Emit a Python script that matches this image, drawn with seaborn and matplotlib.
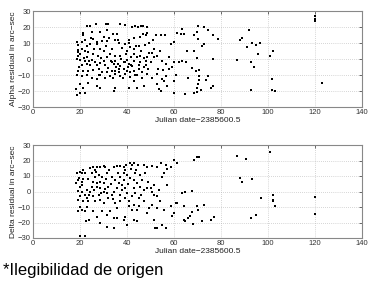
import matplotlib
matplotlib.use("Agg")
import matplotlib.pyplot as plt
import seaborn as sns
import pandas as pd

# Alpha residuals (x = Julian date - 2385600.5, y = residual in arc-sec)
alpha_pts = [
    (23,20.6),(24.3,20.6),(27,22),(31,22),(32,21.7),(37,22),(39,21),(42,20),(46,20.8),(47,20.6),
    (43.6,20.6),(44.6,20),(48.6,20),(52.4,15),(54.3,15),(56.3,15),(61.4,16.4),(63.3,19),(21.1,16.2),
    (21.4,14.7),(25,16.8),(28.6,16.8),(31.4,18.3),(34,15.4),(35.7,15.8),(25.7,12.6),(27.1,10.5),
    (30,14),(31.4,11.2),(35,11.6),(36.4,9.9),(39.3,9.5),(40.7,9.9),(42.9,13),(45.7,13.7),(47,15.8),
    (48.6,16.4),(48,15.2),(49.3,10),(45,8),(42.9,6.3),(40,5.3),(41.4,7.4),(37,2.1),(35,2.1),(32.9,3.2),
    (30,5.3),(28.6,6.3),(27.1,9.5),(24.3,9.5),(22.9,8.4),(20.7,10.5),(18.9,10.5),(19.3,8.8),(19.3,5.7),
    (19.3,4.6),(20,3.2),(22.1,5.3),(23.6,4.2),(25.7,3.2),(25,-0.6),(22.1,-1),(20,-0.6),(18.9,0),
    (20.7,-3.6),(22.9,-3.2),(24.3,-3.6),(27.1,-3.6),(28.6,-2.7),(30,-1),(31.4,1),(33.6,-2.1),(35,-1),
    (36,-3.2),(37.1,-4.4),(38.6,-2.1),(40,-0.6),(40.7,-3.2),(41.7,-3.6),(42.9,-1),(44.3,1.5),(45.7,2.1),
    (47.1,0.6),(48.6,1.5),(50.7,3.6),(51.4,1),(45.7,-2.1),(47.9,-3.6),(47.4,-5.3),(45,-6.3),(42.9,-7.4),
    (41.4,-8.4),(40,-7.4),(38.6,-6.3),(36.4,-6.3),(35,-7.4),(33.6,-7.4),(31.4,-8),(29.3,-8.4),(27.9,-6.3),
    (25.7,-6.9),(23.6,-7.4),(21.4,-7.4),(19.3,-7.4),(18.9,-9.9),(20.7,-10.5),(22.9,-9.9),(25,-11.6),
    (27.1,-12.6),(28.6,-9.9),(30.7,-12),(32.9,-10.5),(35,-9.5),(37.1,-10.5),(39.3,-9.5),(41.4,-11.2),
    (42.9,-13.7),(44.3,-9.9),(46.4,-11.6),(48.6,-9.5),(50.7,-11.6),(52.9,-9.5),(55,-12.6),(56.4,-10.5),
    (57.9,-6.3),(59.3,-5.3),(55.7,-13.7),(52.9,-15.8),(47.4,-16.8),(44.3,-17.9),(40.7,-18.3),(35,-18.3),
    (34.3,-20),(28.6,-17.9),(27.1,-16.8),(23.6,-14.7),(21.1,-18.3),(20,-15.8),(18.1,-18.9),(18.9,-22.7),
    (20,-21),(22.1,-21),(54.3,-20),(53.6,-18.9),(60,-21),(60,-13.7),(60.7,-9.9),(62.1,-2.1),(63.6,-1),
    (60,-2.1),(57.9,1),(51.4,6.3),(52.9,2.1),(55,-1),(56.4,-3.2),(58.6,9.5),(60,10.5),(62.9,15.8),
    (64.3,15.8),
    (19,2),(19.5,-5),(21,6),(21.5,0.5),(22,12),(23,1.5),(24,-1.5),(24.5,13),(26,6),(26.5,-2),
    (27.5,2),(28,-10),(29,0.5),(29.5,11),(30.5,-4),(31,8),(32,-5.5),(32.5,13),(33,-1),(33.5,6),
    (34,-12),(34.5,-3),(35.5,-5),(36,12),(36.5,-8),(37.5,0),(38,7),(38.5,-12),(39,-2),(39.5,3),
    (40.5,-5),(41,12),(41.5,1),(42,-4.5),(43,3),(43.5,-10),(44,8),(45,-3.5),(46,5),(46.5,-8),
    (47.5,9),(48,-1),(49,-6),(49.5,4),(50,-2),(51,12),(53,-6),(54,5),(55.5,-7),(57,-17),
    (65.7,5),(68.6,5),(65,-2),(69.7,0.4),(76.6,0),(67.6,-5.7),(69.4,-7.4),(70.7,-7),(66.1,-12),
    (70.7,-10.6),(70.7,-13),(73.6,-13),(74.4,-10.6),(76.6,-17),(75.7,-18),(70,-15.7),(69.7,-18),
    (71.4,-19.6),(68.7,-21),(69.7,-20.5),(64.7,-21.7),(70.4,20.4),(72.6,20),(74.4,18),(69.7,17),
    (68.4,15),(76.6,15),(78.7,12.2),(70.4,12.6),(72.6,9.6),(71.9,8),
    (91.9,18.3),(88,11.7),(88.9,13),(91,7.4),(93,10),(94.7,9),(96.7,10.3),(95.9,3.2),(86.7,-0.6),
    (92.7,-2),(93.9,-4.8),(100.7,2.1),(102.1,5.3),(101.9,-12.4),(92.9,-19.4),(101.9,-19.4),(102.9,-20),
    (120,26.7),(120,25.3),(120,23.6),(122.9,-15),
]

# Delta residuals
delta_pts = [
    (18.9,11.7),(20,12.8),(20.7,11.7),(21.4,13.8),(22.1,12.1),(18.3,5.3),(19.3,7.4),(20.7,6.4),
    (21.4,7.9),(20,3.2),(19.3,0.6),(20.7,0),(22.9,1.1),(22.1,-2.1),(24.3,0),(20,-3.2),(19.3,-5.3),
    (21.4,-6.4),(22.9,-4.3),(23.6,-6.4),(20,-10),(19.3,-12.8),(20.7,-11.7),(22.1,-12.8),(22.9,-10),
    (22.6,-19.1),(24,-18.5),(20,-29),(22.1,-29),(24.3,14.9),(25.7,15.5),(26.4,13.8),(27.1,15.5),
    (28.6,16),(30,16.4),(30.7,15.5),(25,11.7),(26.4,9.6),(27.9,10.6),(29.3,9.6),(31.4,11.7),(25.7,6.4),
    (27.1,5.3),(28.6,6.4),(30,5.3),(27.1,3.2),(25,2.8),(28.6,2.1),(30.7,1.5),(32.1,3.2),(31.4,-1.1),
    (30,0),(27.9,-2.1),(25.7,-3.2),(26.4,-6.4),(28.6,-5.7),(30,-7.4),(32.1,-4.3),(33.6,-2.1),(34.3,0),
    (35.7,2.1),(36.4,5.3),(35,7.4),(33.6,9.6),(34.3,16),(35.7,16.4),(37.1,16.4),(38.6,16),(39.7,17),
    (41.1,18.1),(42.1,17.4),(42.9,18.5),(44.6,17.4),(47.1,17.4),(48.6,16),(50.7,16.4),(52.9,15.5),
    (54.3,18.1),(56.4,17),(57.1,14.3),(58.6,16),(60,20.2),(61.4,18.1),(55.7,11.7),(55,9.6),(51.4,4.3),
    (50,2.1),(50.7,0),(51.4,-2.1),(52.9,-3.2),(48.6,2.1),(47.1,1.1),(45.7,3.2),(44.3,5.3),(42.9,7.4),
    (41.4,8.5),(40,10.6),(38.6,11.7),(39.3,13.8),(41.7,14.3),(43.6,11.7),(45.7,10.6),(46.4,7.4),
    (38.6,7.4),(37.1,9.6),(39.3,2.1),(37.9,1.1),(40,-1.1),(42.1,-3.2),(43.6,-1.1),(45,-4.3),(47.1,-6.4),
    (42.9,-8.5),(40.7,-9.6),(42.1,-11.7),(44.3,-11.7),(45,-9.6),(37.1,-6.4),(35,-7.4),(35.7,-10.6),
    (32.9,-12.8),(31.4,-14.9),(34.3,-17),(35.7,-17),(38.6,-18.1),(39.3,-16.4),(42.9,-18.5),(44.3,-19.1),
    (40,-21.3),(34.3,-23.4),(31.4,-22.8),(28.6,-20.2),(27.1,-16.4),(25.7,-12.8),(29.3,-12.8),
    (51.4,-18.1),(51.9,-23.8),(52.9,-23.8),(55,-21.3),(56.4,-23.4),(59.3,-16),(60,-13.8),(60.7,-7.4),
    (61.4,-7.4),(58.6,-9.6),(55.7,-11.7),(52.9,-10.6),(50.7,-8.5),(48.6,-13.8),(49.3,-10.6),
    (63.6,-1.1),(64.3,-9.6),(64.3,-18.1),
    (19.5,9),(21,4),(23.5,8),(24,-2),(26,1),(27,12.5),(29,-1),(31,8),(32.5,14),(33,5),
    (34,-5),(36,12),(37,-2),(38,4),(39,-4),(40.5,5),(41,-6),(43,2),(44,14),(46,-2),
    (47.5,12),(49,6),(53.5,1),(54,-6),(57,4),
    (68.7,20.4),(69.7,22.3),(70.7,22.3),(67.6,0.4),(64.7,-0.4),(64.7,-19.1),(68.1,-20.9),(66,-17),
    (66.6,-15.5),(67.6,-13.4),(69.7,-9.1),(70.4,-11.7),(72.6,-8.5),(71.9,-19.1),(75.7,-18.1),
    (76.9,-16.6),(86.6,22.8),(90.7,21.1),(88,8.5),(89.1,6.4),(93.1,8.1),(101,25.5),(96.9,-4),
    (102,-2.1),(102,-5.3),(102.3,-6.4),(102.9,-9.6),(92.9,-17.2),(94.7,-15.1),(120,-3.6),(120,-14.3),
]

x_ticks = [0, 20, 40, 60, 80, 100, 120, 140]
y_ticks = [-30, -20, -10, 0, 10, 20, 30]
x_label = "Julian date\u22122385600.5"
y_labels = ["Alpha residual in arc\u2212sec", "Delta residual in arc\u2212sec"]
y_tick_labels = ["\u221230", "\u221220", "\u221210", "0", "10", "20", "30"]
footnote = "*Ilegibilidad de origen"

alpha_df = pd.DataFrame(alpha_pts, columns=["jd", "res"])
delta_df = pd.DataFrame(delta_pts, columns=["jd", "res"])

sns.set_style("white")
plt.rcParams["font.family"] = ["Liberation Sans", "DejaVu Sans"]

fig = plt.figure(figsize=(3.72, 2.84), dpi=100)
W, H = 372, 284
ax1 = fig.add_axes([33 / W, 1 - 107 / H, 329 / W, 96 / H])
ax2 = fig.add_axes([33 / W, 1 - 238 / H, 329 / W, 93 / H])

for ax, df, yl in [(ax1, alpha_df, y_labels[0]), (ax2, delta_df, y_labels[1])]:
    sns.scatterplot(data=df, x="jd", y="res", ax=ax, marker="s", s=3,
                    color="black", linewidth=0, legend=False, zorder=3)
    ax.set_xlim(0, 140)
    ax.set_ylim(-30, 30)
    ax.set_xticks(x_ticks)
    ax.set_yticks(y_ticks)
    ax.set_yticklabels(y_tick_labels)
    ax.grid(True, linestyle=(0, (1, 2)), color="#b0b0b0", linewidth=0.5)
    ax.tick_params(direction="in", length=2.5, width=0.5, labelsize=5.5,
                   colors="#333333", top=True, right=True, pad=1.5)
    for sp in ax.spines.values():
        sp.set_color("#888888")
        sp.set_linewidth(0.8)
    ax.set_xlabel(x_label, fontsize=6, color="#222222", labelpad=0.5)
    ax.set_ylabel(yl, fontsize=6, color="#222222", labelpad=0.5)

fig.text(3 / W, 1 - 270 / H, footnote, fontsize=12, color="black", va="center", ha="left")

fig.savefig("out.png", dpi=100, facecolor="white")
